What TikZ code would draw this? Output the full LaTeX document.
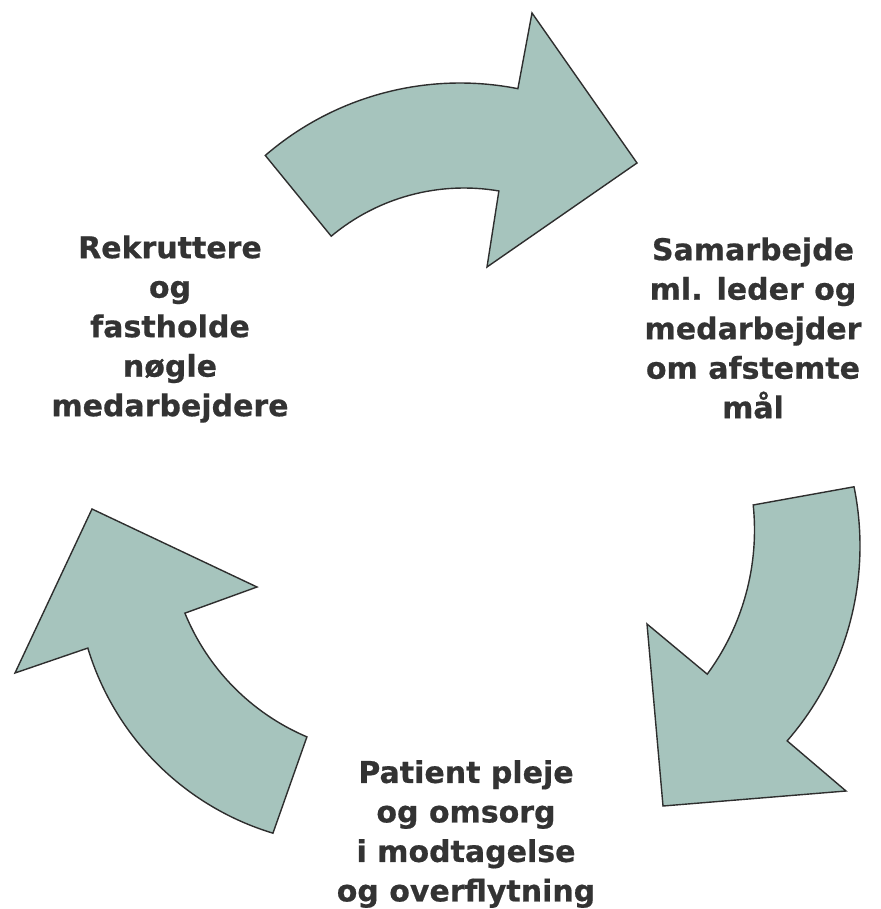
\documentclass[tikz,border=0pt]{standalone}
\usepackage{fontspec}
\setmainfont{DejaVu Sans}[BoldFeatures={FakeBold=0.6}]
\usetikzlibrary{calc}
\definecolor{arrowfill}{HTML}{A6C4BD}
\definecolor{edgecol}{HTML}{2E2E2E}
\definecolor{textgray}{HTML}{333333}
\begin{document}
\begin{tikzpicture}[x=1pt,y=-1pt,
  arrowshape/.style={fill=arrowfill, draw=edgecol, line width=1.4pt, line join=miter},
  lbl/.style={font=\bfseries\fontsize{30}{39.5}\selectfont, text=textgray, align=center, inner sep=0pt}]
\useasboundingbox (0,0) rectangle (880,909);
% top arrow
\draw[arrowshape] ($(460,381)+(-130.8:298)$) arc[start angle=-130.8, end angle=-78.8, radius=298]
  -- (532,13) -- (637,163) -- (487,267) -- ($(464,395)+(-80.3:207)$)
  arc[start angle=-80.3, end angle=-129.9, radius=207] -- cycle;
% right arrow
\draw[arrowshape] ($(563,546)+(-11.5:297)$) arc[start angle=-11.5, end angle=41.0, radius=297]
  -- (846,791) -- (663,806) -- (647,624) -- ($(511,530)+(36.3:243.5)$)
  arc[start angle=36.3, end angle=-5.9, radius=243.5] -- cycle;
% left arrow
\draw[arrowshape] ($(353,568)+(106.8:277)$) arc[start angle=106.8, end angle=163.2, radius=277]
  -- (15,673) -- (92,509) -- (257,587) -- ($(396,527)+(157.8:228)$)
  arc[start angle=157.8, end angle=113.0, radius=228] -- cycle;
% labels
\node[lbl] (rekr) at (170,329) {Rekruttere\\og\\fastholde\\nøgle\\medarbejdere};
\node[lbl] (samarb) at (753,328) {Samarbejde\\ml. leder og\\medarbejder\\om afstemte\\mål};
\node[lbl] (patient) at (466,834) {Patient pleje\\og omsorg\\i modtagelse\\og overflytning};
\end{tikzpicture}
\end{document}
